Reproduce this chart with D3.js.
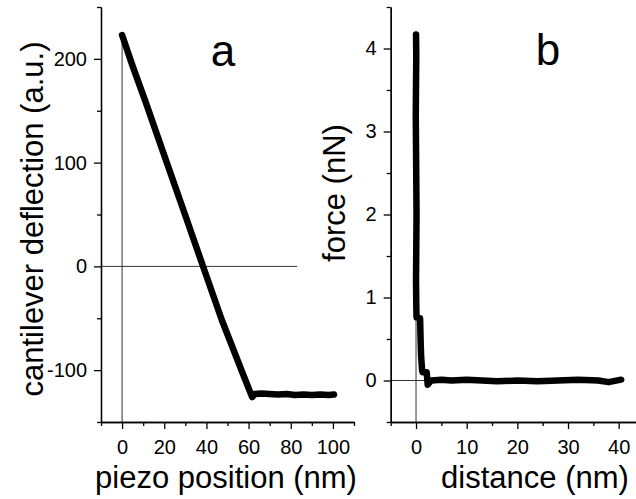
<!DOCTYPE html>
<html>
<head>
<meta charset="utf-8">
<script src="https://cdn.jsdelivr.net/npm/d3@7/dist/d3.min.js"></script>
<style>
  html, body { margin: 0; padding: 0; background: #fff; }
  svg { display: block; }
  text { font-family: "Liberation Sans", Arial, Helvetica, sans-serif; fill: #000; }
</style>
</head>
<body>
<svg id="chart" width="636" height="499"></svg>
<script>
// Panel a: cantilever deflection vs piezo position
const aPiezo = [0, 5, 10.9, 20, 30, 38.3, 47.3, 52, 57, 61.7, 63, 66, 70, 74, 78, 82, 86, 90, 94, 98, 100.5];
const aDeflection = [223, 193, 160, 107, 49, 0.6, -51.7, -76, -102, -126, -123, -122.5, -123, -123.5, -123, -124, -123.5, -124, -123.5, -124, -123.5];
const aXTicks = [0, 20, 40, 60, 80, 100];
const aXMinor = [-10, 10, 30, 50, 70, 90, 110];
const aYTicks = [-100, 0, 100, 200];
const aYMinor = [-150, -50, 50, 150, 250];

// Panel b: force vs distance
const bDistance = [0, 0.05, 0, -0.05, 0, 0.05, 0.1, 0.05, 0, 0.05, 0.1, 0.8, 0.9, 1.0, 1.2, 1.3, 2.1, 2.2, 2.3, 3, 5, 7, 10, 13, 16, 20, 24, 28, 32, 36, 38, 40.5];
const bForce = [4.17, 3.9, 3.6, 3.2, 2.8, 2.4, 2.0, 1.6, 1.2, 0.9, 0.76, 0.75, 0.5, 0.3, 0.12, 0.1, 0.1, 0.03, -0.05, 0.0, 0.01, 0.0, 0.01, 0.0, -0.01, 0.0, -0.01, 0.0, 0.01, 0.0, -0.02, 0.01];
const bXTicks = [0, 10, 20, 30, 40];
const bXMinor = [-5, 5, 15, 25, 35, 45];
const bYTicks = [0, 1, 2, 3, 4];
const bYMinor = [-0.5, 0.5, 1.5, 2.5, 3.5, 4.5];

const svg = d3.select("#chart");

const panels = [
  {
    xs: aPiezo, ys: aDeflection,
    xDomain: [-10, 110], xRange: [101, 354],
    yDomain: [-150, 250], yRange: [422, 7],
    xTicks: aXTicks, xMinor: aXMinor, yTicks: aYTicks, yMinor: aYMinor,
    hZero: [-10, 83], vZero: [-150, 222],
    xTitle: "piezo position (nm)", xTitleCx: 226,
    yTitle: "cantilever deflection (a.u.)", yTitleX: 43, yTitleCy: 219,
    letter: "a", letterX: 223, letterY: 66
  },
  {
    xs: bDistance, ys: bForce,
    xDomain: [-5, 45], xRange: [390.7, 644],
    yDomain: [-0.5, 4.5], yRange: [422, 7],
    xTicks: bXTicks, xMinor: bXMinor, yTicks: bYTicks, yMinor: bYMinor,
    hZero: [-5, 40], vZero: [-0.5, 4.1],
    xTitle: "distance (nm)", xTitleCx: 535,
    yTitle: "force (nN)", yTitleX: 345, yTitleCy: 193,
    letter: "b", letterX: 548, letterY: 65
  }
];

panels.forEach(p => {
  const x = d3.scaleLinear().domain(p.xDomain).range(p.xRange);
  const y = d3.scaleLinear().domain(p.yDomain).range(p.yRange);
  const g = svg.append("g");

  // zero reference lines
  g.append("line")
    .attr("x1", x(p.hZero[0])).attr("x2", x(p.hZero[1]))
    .attr("y1", y(0)).attr("y2", y(0))
    .attr("stroke", "#333").attr("stroke-width", 1);
  g.append("line")
    .attr("x1", x(0)).attr("x2", x(0))
    .attr("y1", y(p.vZero[0])).attr("y2", y(p.vZero[1]))
    .attr("stroke", "#333").attr("stroke-width", 1);

  // data curve
  const line = d3.line().x((d, i) => x(p.xs[i])).y((d, i) => y(p.ys[i]));
  g.append("path")
    .datum(p.xs)
    .attr("d", line)
    .attr("fill", "none")
    .attr("stroke", "#000")
    .attr("stroke-width", 6.5)
    .attr("stroke-linejoin", "round")
    .attr("stroke-linecap", "round");

  // x axis: minor ticks, then major ticks with labels
  const xAxisY = p.yRange[0];
  const xMinorG = g.append("g").attr("transform", `translate(0,${xAxisY})`)
    .call(d3.axisBottom(x).tickValues(p.xMinor).tickSize(4).tickSizeOuter(0).tickFormat(""));
  const xMajorG = g.append("g").attr("transform", `translate(0,${xAxisY})`)
    .call(d3.axisBottom(x).tickValues(p.xTicks).tickSize(7).tickSizeOuter(0).tickPadding(11));
  xMajorG.selectAll("text").attr("font-size", 20).attr("dy", "0.71em");

  // y axis
  const yAxisX = p.xRange[0];
  const yMinorG = g.append("g").attr("transform", `translate(${yAxisX},0)`)
    .call(d3.axisLeft(y).tickValues(p.yMinor).tickSize(4).tickSizeOuter(0).tickFormat(""));
  const yMajorG = g.append("g").attr("transform", `translate(${yAxisX},0)`)
    .call(d3.axisLeft(y).tickValues(p.yTicks).tickSize(7).tickSizeOuter(0).tickPadding(7)
      .tickFormat(d => String(d)));
  yMajorG.selectAll("text").attr("font-size", 20);

  [xMinorG, xMajorG, yMinorG, yMajorG].forEach(ax => {
    ax.select(".domain").attr("stroke", "#000").attr("stroke-width", 1.3);
    ax.selectAll(".tick line").attr("stroke", "#000").attr("stroke-width", 1.3);
    ax.selectAll("text").style("font-family", "Liberation Sans, Arial, sans-serif").attr("fill", "#000");
  });

  // axis titles
  g.append("text")
    .attr("x", p.xTitleCx)
    .attr("y", 488)
    .attr("text-anchor", "middle")
    .attr("font-size", 31)
    .text(p.xTitle);

  g.append("text")
    .attr("transform", `translate(${p.yTitleX},${p.yTitleCy}) rotate(-90)`)
    .attr("text-anchor", "middle")
    .attr("font-size", 31)
    .text(p.yTitle);

  // panel letter
  g.append("text")
    .attr("x", p.letterX)
    .attr("y", p.letterY)
    .attr("text-anchor", "middle")
    .attr("font-size", 44)
    .text(p.letter);
});
</script>
</body>
</html>
